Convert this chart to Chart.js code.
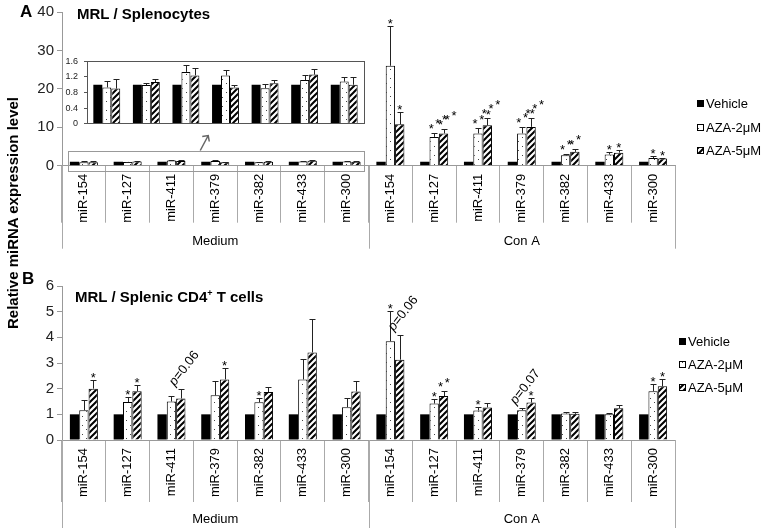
<!DOCTYPE html>
<html lang="en">
<head>
<meta charset="utf-8">
<script src="https://cdn.jsdelivr.net/npm/chart.js@4.4.1/dist/chart.umd.min.js"></script>
<style>
  body { margin: 0; background: #fff; }
  #wrap { position: relative; width: 762px; height: 528px; overflow: hidden; background: #fff;
          font-family: "Liberation Sans", Arial, sans-serif; color: #000; }
  canvas { position: absolute; }
  .txt { position: absolute; white-space: nowrap; font-weight: bold; }
</style>
</head>
<body>
<div id="wrap">
  <canvas id="chartA" width="762" height="250" style="left:0;top:0"></canvas>
  <canvas id="inset" width="310" height="85" style="left:60px;top:50px"></canvas>
  <canvas id="chartB" width="762" height="258" style="left:0;top:270px"></canvas>

  <div class="txt" style="left:20px;top:3px;font-size:17px;line-height:17px">A</div>
  <div class="txt" style="left:22px;top:270px;font-size:17px;line-height:17px">B</div>
  <div class="txt" style="left:77px;top:6px;font-size:15px;line-height:15px">MRL / Splenocytes</div>
  <div class="txt" style="left:75px;top:286px;font-size:15px;line-height:15px">MRL / Splenic CD4<sup style="font-size:9px;vertical-align:6px">+</sup> T cells</div>
  <div class="txt" style="left:-107px;top:204px;width:240px;height:18px;line-height:18px;text-align:center;font-size:15px;transform:rotate(-90deg)">Relative miRNA expression level</div>
</div>

<script>
const FONT = '"Liberation Sans", Arial, sans-serif';

// categories
const mirs = ['miR-154', 'miR-127', 'miR-411', 'miR-379', 'miR-382', 'miR-433', 'miR-300'];
const groups = ['Medium', 'Con A'];
const labels = groups.flatMap(() => mirs);
const seriesNames = ['Vehicle', 'AZA-2\u03bcM', 'AZA-5\u03bcM'];

// panel A - splenocytes (Medium values are the ones shown in the inset)
const aVehicle = [1, 1, 1, 1, 1, 1, 1, 1, 1, 1, 1, 1, 1, 1];
const aAza2Medium = [0.93, 0.99, 1.33, 1.24, 0.91, 1.12, 1.08];
const aAza2MediumErr = [0.17, 0.05, 0.19, 0.13, 0.12, 0.12, 0.12];
const aAza5Medium = [0.90, 1.07, 1.24, 0.93, 1.04, 1.26, 1.00];
const aAza5MediumErr = [0.24, 0.09, 0.19, 0.06, 0.07, 0.15, 0.20];
const aAza2ConA = [26.0, 7.5, 8.4, 8.4, 2.7, 2.9, 2.0];
const aAza2ConAErr = [10.3, 1.0, 1.3, 1.6, 0.3, 0.6, 0.4];
const aAza5ConA = [10.8, 8.4, 10.5, 10.1, 3.6, 3.4, 1.9];
const aAza5ConAErr = [3.3, 1.1, 1.9, 2.3, 0.7, 0.6, 0.1];
const aAza2Sig = ['', '', '', '', '', '', '', '*', '***', '***', '***', '**', '*', '*'];
const aAza5Sig = ['', '', '', '', '', '', '', '*', '***', '***', '***', '**', '*', '*'];

// panel B - splenic CD4+ T cells
const bVehicle = [1, 1, 1, 1, 1, 1, 1, 1, 1, 1, 1, 1, 1, 1];
const bAza2 = [1.16, 1.48, 1.50, 1.74, 1.47, 2.36, 1.28, 3.85, 1.42, 1.15, 1.16, 1.03, 1.00, 1.90];
const bAza2Err = [0.38, 0.19, 0.22, 0.55, 0.18, 0.79, 0.37, 1.19, 0.16, 0.13, 0.09, 0.07, 0.06, 0.28];
const bAza5 = [2.00, 1.90, 1.62, 2.36, 1.87, 3.41, 1.89, 3.13, 1.71, 1.27, 1.46, 1.02, 1.24, 2.09];
const bAza5Err = [0.33, 0.23, 0.35, 0.46, 0.20, 1.30, 0.42, 0.98, 0.18, 0.16, 0.16, 0.08, 0.13, 0.27];
const bAza2Sig = ['', '*', '', '', '*', '', '', '*', '*', '*', 'p=0.07', '', '', '*'];
const bAza5Sig = ['*', '*', 'p=0.06', '*', '', '', '', 'p=0.06', '**', '', '*', '', '', '*'];

// fill patterns for the two AZA series
function dotPattern() {
  const c = document.createElement('canvas');
  c.width = 8; c.height = 9;
  const g = c.getContext('2d');
  g.fillStyle = '#fff'; g.fillRect(0, 0, 8, 9);
  g.fillStyle = '#444';
  g.fillRect(2, 2, 1, 1);
  g.fillRect(6, 6, 1, 1);
  return g.createPattern(c, 'repeat');
}
function hatchPattern() {
  const s = 6;
  const c = document.createElement('canvas');
  c.width = s; c.height = s;
  const g = c.getContext('2d');
  g.fillStyle = '#fff'; g.fillRect(0, 0, s, s);
  g.strokeStyle = '#000'; g.lineWidth = 2;
  g.beginPath();
  g.moveTo(-1, s + 1); g.lineTo(s + 1, -1);
  g.moveTo(-1, 1); g.lineTo(1, -1);
  g.moveTo(s - 1, s + 1); g.lineTo(s + 1, s - 1);
  g.stroke();
  return g.createPattern(c, 'repeat');
}
const dots = dotPattern();
const hatch = hatchPattern();

function drawSig(ctx, s, x, top) {
  ctx.save();
  ctx.fillStyle = '#000';
  ctx.textBaseline = 'alphabetic';
  ctx.font = '13px ' + FONT;
  if (s === '*') {
    ctx.textAlign = 'center';
    ctx.fillText(s, x, top + 2);
  } else if (s[0] === '*') {
    // stars climbing diagonally, spaced apart
    const a = 33 * Math.PI / 180;
    ctx.textAlign = 'center';
    for (let k = 0; k < s.length; k++) {
      const cx = x - 3 + k * 8 * Math.cos(a);
      const cy = top - 8 - k * 8 * Math.sin(a);
      ctx.fillText('*', cx, cy + 7.5);
    }
  } else {
    ctx.translate(x - 6, top - 3);
    ctx.rotate(-52 * Math.PI / 180);
    ctx.textAlign = 'left';
    ctx.font = 'italic 13px ' + FONT;
    ctx.fillText('p', 0, 0);
    const w = ctx.measureText('p').width;
    ctx.font = '13px ' + FONT;
    ctx.fillText(s.slice(1), w, 0);
  }
  ctx.restore();
}

// error bars (upper only) + significance marks
const errorBars = {
  id: 'errorBars',
  afterDatasetsDraw(chart) {
    const ctx = chart.ctx;
    const y = chart.scales.y;
    chart.data.datasets.forEach((ds, i) => {
      const meta = chart.getDatasetMeta(i);
      meta.data.forEach((bar, j) => {
        const e = ds.errors ? ds.errors[j] : 0;
        const top = y.getPixelForValue(ds.data[j] + (e || 0));
        if (e) {
          const x = Math.round(bar.x) + 0.5;
          ctx.save();
          ctx.strokeStyle = '#222';
          ctx.lineWidth = 1;
          ctx.beginPath();
          ctx.moveTo(x, bar.y);
          ctx.lineTo(x, Math.round(top) + 0.5);
          ctx.moveTo(x - 3, Math.round(top) + 0.5);
          ctx.lineTo(x + 3, Math.round(top) + 0.5);
          ctx.stroke();
          ctx.restore();
        }
        if (ds.sig && ds.sig[j]) drawSig(ctx, ds.sig[j], bar.x, top);
      });
    });
  }
};

// Medium / Con A group labels and long separators under the x axis
const groupAxis = {
  id: 'groupAxis',
  afterDraw(chart, args, opts) {
    const x = chart.scales.x;
    const ctx = chart.ctx;
    const n = mirs.length;
    ctx.save();
    ctx.strokeStyle = '#aaa';
    ctx.lineWidth = 1;
    for (let k = 0; k <= groups.length; k++) {
      const px = Math.round(x.getPixelForValue(k * n - 0.5)) + 0.5;
      ctx.beginPath();
      ctx.moveTo(px, x.top);
      ctx.lineTo(px, x.top + opts.lineLen);
      ctx.stroke();
    }
    ctx.fillStyle = '#000';
    ctx.font = '13px ' + FONT;
    ctx.textAlign = 'center';
    ctx.textBaseline = 'middle';
    groups.forEach((g, k) => ctx.fillText(g, x.getPixelForValue(k * n + (n - 1) / 2), x.top + opts.labelOffset));
    ctx.restore();
  }
};

// legend drawn at the right of each panel
const boxLegend = {
  id: 'boxLegend',
  afterDraw(chart, args, opts) {
    const ctx = chart.ctx;
    ctx.save();
    chart.data.datasets.forEach((ds, i) => {
      const y = Math.round(opts.y + i * opts.gap);
      ctx.fillStyle = ds.backgroundColor;
      ctx.fillRect(opts.x, y - 3, 7, 7);
      if (ds.borderWidth) {
        ctx.strokeStyle = '#000';
        ctx.lineWidth = 1;
        ctx.strokeRect(opts.x + 0.5, y - 2.5, 6, 6);
      }
      ctx.fillStyle = '#000';
      ctx.font = '13px ' + FONT;
      ctx.textAlign = 'left';
      ctx.textBaseline = 'middle';
      ctx.fillText(ds.label, opts.x + 9, y + 1);
    });
    ctx.restore();
  }
};

// grey box round the Medium bars of panel A, with arrow to the inset
const zoomMarker = {
  id: 'zoomMarker',
  afterDraw(chart) {
    const x = chart.scales.x, y = chart.scales.y;
    const ctx = chart.ctx;
    const n = mirs.length;
    const l = Math.round(x.getPixelForValue(-0.5) + 6) + 0.5;
    const r = Math.round(x.getPixelForValue(n - 0.5) - 5) + 0.5;
    const t = Math.round(y.getPixelForValue(3.8)) + 0.5;
    const b = Math.round(y.getPixelForValue(0) + 5) + 0.5;
    ctx.save();
    ctx.strokeStyle = '#999';
    ctx.lineWidth = 1;
    ctx.strokeRect(l, t, r - l, b - t);
    const ax = x.getPixelForValue(3) - 15;
    const tx = ax + 8, ty = t - 16;
    ctx.strokeStyle = '#666';
    ctx.lineWidth = 1.5;
    ctx.beginPath();
    ctx.moveTo(ax, t - 1);
    ctx.lineTo(tx, ty);
    ctx.moveTo(tx - 6, ty + 1);
    ctx.lineTo(tx, ty);
    ctx.lineTo(tx + 1, ty + 6);
    ctx.stroke();
    ctx.restore();
  }
};

const insetFrame = {
  id: 'insetFrame',
  afterDraw(chart) {
    const a = chart.chartArea;
    const ctx = chart.ctx;
    ctx.save();
    ctx.strokeStyle = '#555';
    ctx.lineWidth = 1;
    ctx.strokeRect(Math.round(a.left) + 0.5, Math.round(a.top) + 0.5, Math.round(a.right - a.left), Math.round(a.bottom - a.top));
    ctx.restore();
  }
};

function datasets(v, a2, a2e, a2s, a5, a5e, a5s) {
  return [
    { label: seriesNames[0], data: v, backgroundColor: '#000', borderWidth: 0 },
    { label: seriesNames[1], data: a2, errors: a2e, sig: a2s, backgroundColor: dots, borderColor: '#000', borderWidth: 1 },
    { label: seriesNames[2], data: a5, errors: a5e, sig: a5s, backgroundColor: hatch, borderColor: '#000', borderWidth: 1 }
  ];
}

function panel(id, h, top, max, step, tl, lineLen, labelOffset, legend) {
  const xHeight = h - top - 154;
  return new Chart(document.getElementById(id), {
    type: 'bar',
    plugins: [errorBars, groupAxis, boxLegend].concat(id === 'chartA' ? [zoomMarker] : []),
    options: {
      responsive: false,
      animation: false,
      events: [],
      layout: { padding: { left: 0, right: 87, top: top, bottom: 0 } },
      datasets: { bar: { categoryPercentage: 0.64, barPercentage: 1.0 } },
      plugins: {
        legend: { display: false },
        tooltip: { enabled: false },
        groupAxis: { lineLen: lineLen, labelOffset: labelOffset },
        boxLegend: legend
      },
      scales: {
        x: {
          grid: { offset: true, drawOnChartArea: false, tickLength: tl, color: '#aaa' },
          border: { color: '#999' },
          ticks: { autoSkip: false, minRotation: 90, maxRotation: 90, padding: 8 - tl,
                   font: { family: FONT, size: 13 }, color: '#000' },
          afterFit(s) { s.height = xHeight; }
        },
        y: {
          min: 0, max: max,
          grid: { drawOnChartArea: false, tickLength: 5, color: '#999' },
          border: { color: '#999' },
          ticks: { stepSize: step, padding: 3, font: { family: FONT, size: 15 }, color: '#222' },
          afterFit(s) { s.width = 62; }
        }
      }
    },
    data: { labels: labels, datasets: [] }
  });
}

const chartA = panel('chartA', 250, 11.7, 40, 10, 57, 83, 76, { x: 697, y: 103, gap: 23.5 });
chartA.data.datasets = datasets(aVehicle,
  aAza2Medium.concat(aAza2ConA), aAza2MediumErr.concat(aAza2ConAErr), aAza2Sig,
  aAza5Medium.concat(aAza5ConA), aAza5MediumErr.concat(aAza5ConAErr), aAza5Sig);
chartA.update();

const chartB = panel('chartB', 258, 16, 6, 1, 62, 88, 79, { x: 679, y: 71, gap: 23 });
chartB.data.datasets = datasets(bVehicle, bAza2, bAza2Err, bAza2Sig, bAza5, bAza5Err, bAza5Sig);
chartB.update();

// inset: Medium values of panel A on a 0-1.6 scale
new Chart(document.getElementById('inset'), {
  type: 'bar',
  plugins: [errorBars, insetFrame],
  data: {
    labels: mirs,
    datasets: datasets(aVehicle.slice(0, mirs.length), aAza2Medium, aAza2MediumErr, null, aAza5Medium, aAza5MediumErr, null)
  },
  options: {
    responsive: false,
    animation: false,
    events: [],
    layout: { padding: { left: 0, right: 6, top: 9.3, bottom: 0 } },
    datasets: { bar: { categoryPercentage: 0.68, barPercentage: 1.0 } },
    plugins: { legend: { display: false }, tooltip: { enabled: false } },
    scales: {
      x: {
        grid: { display: false },
        border: { color: '#555' },
        ticks: { display: false },
        afterFit(s) { s.height = 6.7; }
      },
      y: {
        min: 0, max: 1.6,
        grid: { drawOnChartArea: false, tickLength: 3, color: '#555' },
        border: { color: '#555' },
        ticks: { stepSize: 0.4, padding: 6, font: { family: FONT, size: 9 }, color: '#222' },
        afterFit(s) { s.width = 27; }
      }
    }
  }
});
</script>
</body>
</html>
